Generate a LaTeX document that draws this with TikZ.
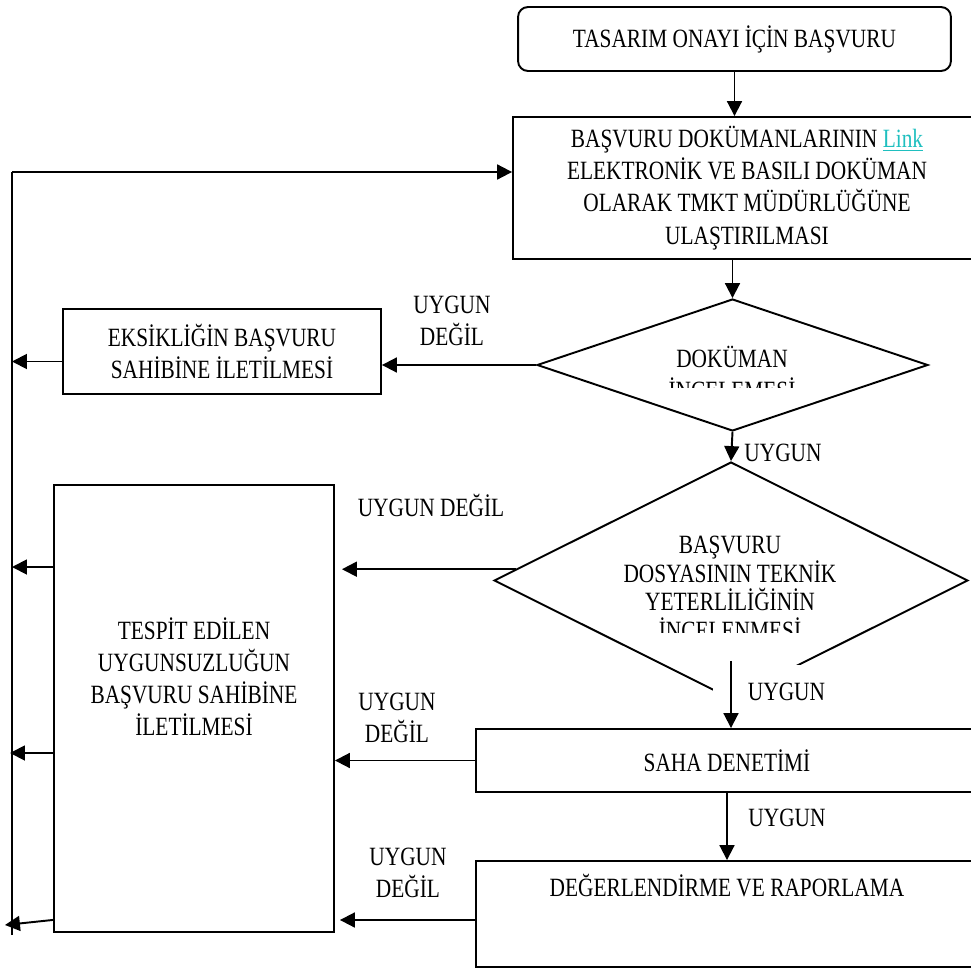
\documentclass[tikz,border=0pt]{standalone}
\usepackage{fontspec}
\setmainfont{Liberation Serif}[FakeStretch=0.81]
\usepackage{tikz}
\usetikzlibrary{shapes.geometric,arrows.meta}
\newcommand{\flowSize}[0]{\fontsize{15}{18.3}\selectfont}
\newcommand{\flowLine}[0]{1.1pt}
\definecolor{linkcyan}{HTML}{1FBFBF}

\begin{document}
\begin{tikzpicture}[x=0.02cm, y=-0.02cm, font=\flowSize, >={Triangle[length=8.5pt,width=8.5pt]}]
  \tikzset{
    box/.style={draw, line width=\flowLine, align=center, inner sep=0pt},
    decision/.style={draw, diamond, line width=\flowLine, inner sep=0pt},
    lbl/.style={align=center, inner sep=0pt},
    flow/.style={line width=\flowLine, ->}
  }
  \useasboundingbox (0,0) rectangle (971,970);
  \clip (0,0) rectangle (971,970);
  % boxes and decisions
  \node[box, rounded corners=0.2cm, minimum width=8.66cm, minimum height=1.28cm] (box-0) at (734.5,39) {TASARIM ONAYI İÇİN BAŞVURU};
  \node[box, minimum width=9.36cm, minimum height=2.84cm] (box-1) at (747,188) {BAŞVURU DOKÜMANLARININ \textcolor{linkcyan}{\underline{Link}}\\ELEKTRONİK VE BASILI DOKÜMAN\\OLARAK TMKT MÜDÜRLÜĞÜNE\\ULAŞTIRILMASI};
  \node[decision, minimum width=7.82cm, minimum height=2.64cm] (dia-1) at (732.5,365) {};
  \begin{scope}
    \clip (600,320) rectangle (870,387);
    \node[lbl] (dia-1-text) at (732,373) {DOKÜMAN\\İNCELEMESİ};
  \end{scope}
  \node[decision, minimum width=9.48cm, minimum height=4.74cm] (dia-2) at (731,580.5) {};
  \begin{scope}
    \clip (560,500) rectangle (900,632);
    \node[lbl, font=\fontsize{15}{16.3}\selectfont] (dia-2-text) at (730,588) {BAŞVURU\\DOSYASININ TEKNİK\\YETERLİLİĞİNİN\\İNCELENMESİ};
  \end{scope}
  \node[box, minimum width=6.36cm, minimum height=1.7cm] (box-2) at (222,351.5) {EKSİKLİĞİN BAŞVURU\\SAHİBİNE İLETİLMESİ};
  \node[box, minimum width=5.6cm, minimum height=8.94cm] (box-3) at (194,708.5) {};
  \node[lbl] (box-3-text) at (194,677) {TESPİT EDİLEN\\UYGUNSUZLUĞUN\\BAŞVURU SAHİBİNE\\İLETİLMESİ};
  \node[box, minimum width=10.04cm, minimum height=1.26cm] (box-4) at (727,760.5) {SAHA DENETİMİ};
  \node[box, minimum width=10.04cm, minimum height=2.12cm] (box-5) at (727,914) {};
  \node[lbl] (box-5-text) at (727,886) {DEĞERLENDİRME VE RAPORLAMA};
  % labels
  \node[lbl] (no-1) at (452,321) {UYGUN\\DEĞİL};
  \node[lbl] (no-2) at (431,505) {UYGUN DEĞİL};
  \node[lbl] (no-3) at (397,717.5) {UYGUN\\DEĞİL};
  \node[lbl] (no-4) at (408,872.5) {UYGUN\\DEĞİL};
  \node[lbl] (ok-1) at (783,453) {UYGUN};
  \node[lbl, fill=white, minimum width=2.94cm, minimum height=1.08cm] (ok-2) at (786.5,692) {UYGUN};
  \node[lbl] (ok-3) at (787,818) {UYGUN};
  % main flow
  \draw[flow] (box-0.south) -- (box-0.south |- box-1.north);
  \draw[flow] (dia-1.north |- box-1.south) -- (dia-1.north);
  \draw[flow] (dia-1.south) -- (dia-2.north);
  \draw[flow] ([yshift=0.78cm]dia-2.south) -- (dia-2.south |- box-4.north);
  \draw[flow] (box-4.south) -- (box-5.north);
  \draw[flow] (dia-1.west) -- (dia-1.west -| box-2.east);
  \draw[flow, shorten >=0.14cm] (dia-2.177) -- (dia-2.177 -| box-3.east);
  \draw[flow] (box-4.west) -- (box-4.west -| box-3.east);
  \draw[flow, shorten >=0.1cm] ([yshift=-0.12cm]box-5.west) -- ([yshift=-0.12cm]box-5.west -| box-3.east);
  % return loop
  \coordinate (loop-0) at (12,172);
  \coordinate (loop-1) at (12,567);
  \coordinate (loop-2) at (10,753);
  \coordinate (loop-3) at (5,925);
  \coordinate (loop-end) at (12,935);
  \draw[line width=\flowLine] (loop-end) -- (loop-0);
  \draw[flow] (loop-0) -- (loop-0 -| box-1.west);
  \draw[flow] ([yshift=-0.2cm]box-2.west) -- ([yshift=-0.2cm]box-2.west -| loop-0);
  \draw[flow] (loop-1 -| box-3.west) -- (loop-1);
  \draw[flow] (loop-2 -| box-3.west) -- (loop-2);
  \draw[flow] ([yshift=0.26cm]box-3.south west) -- (loop-3);
\end{tikzpicture}
\end{document}
